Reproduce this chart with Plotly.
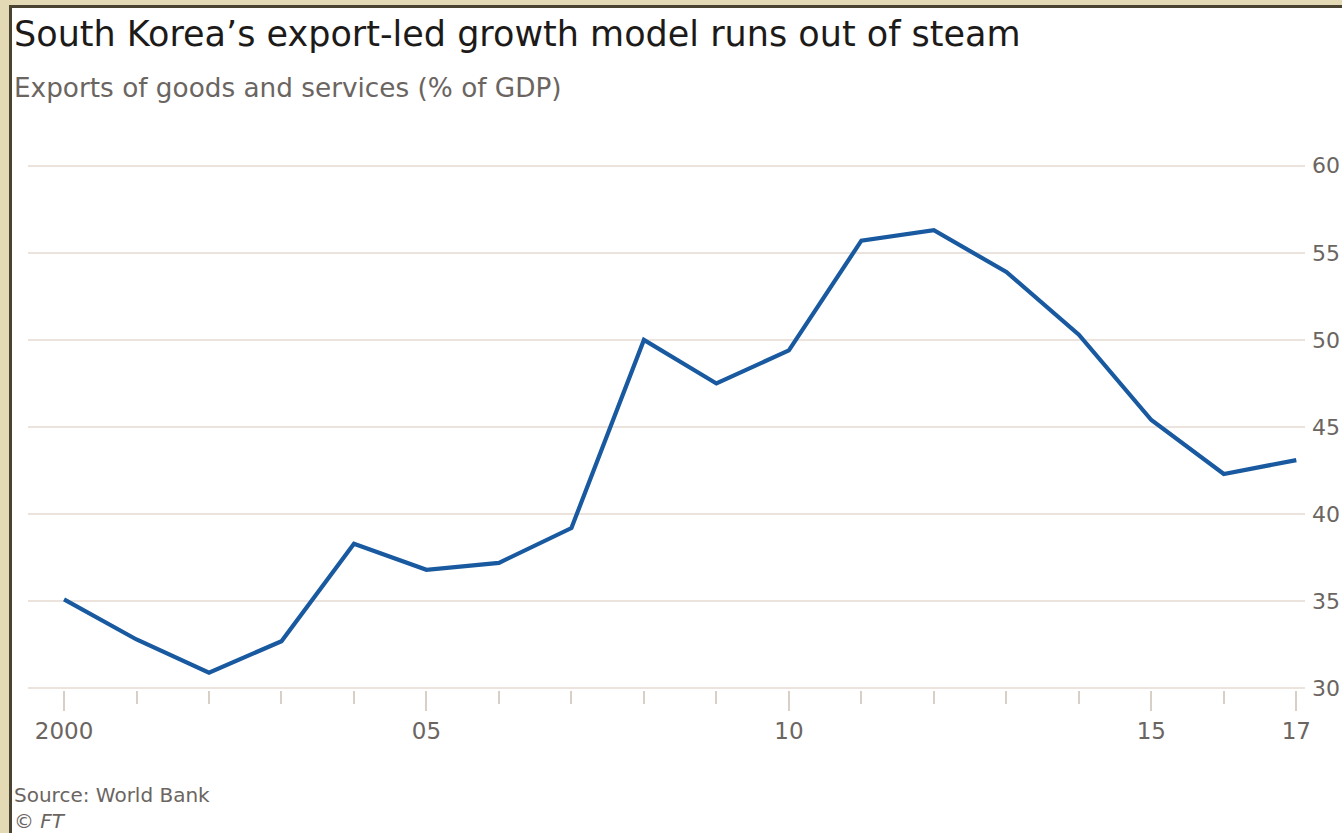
import plotly.graph_objects as go

years = list(range(2000, 2018))
exports_pct_gdp = [35.1, 32.8, 30.9, 32.7, 38.3, 36.8, 37.2, 39.2, 50.0, 47.5,
                   49.4, 55.7, 56.3, 53.9, 50.3, 45.4, 42.3, 43.1]
x_tickvals = [2000, 2005, 2010, 2015, 2017]
x_ticktext = ["2000", "05", "10", "15", "17"]
y_tickvals = [30, 35, 40, 45, 50, 55, 60]

W, H = 1342, 833
ML, MR, MT, MB = 28, 37, 164, 143
PW = W - ML - MR
PH = H - MT - MB

def px(x):
    return (x - ML) / PW

def py(y):
    return (H - MB - y) / PH

FONT = "DejaVu Sans"

fig = go.Figure()
fig.add_trace(go.Scatter(
    x=years, y=exports_pct_gdp, mode="lines",
    line=dict(color="#18599f", width=4.2),
    hoverinfo="x+y", showlegend=False,
))

shapes = [
    dict(type="rect", xref="paper", yref="paper", layer="below",
         x0=px(9), x1=px(W + 20), y0=py(H + 20), y1=py(5),
         fillcolor="#4b4331", line=dict(width=0)),
    dict(type="rect", xref="paper", yref="paper", layer="below",
         x0=px(12), x1=px(W + 20), y0=py(H + 20), y1=py(8),
         fillcolor="#ffffff", line=dict(width=0)),
]

annotations = [
    dict(text="South Korea\u2019s export-led growth model runs out of steam",
         x=px(12), y=py(34), xref="paper", yref="paper", xanchor="left", yanchor="middle",
         showarrow=False, font=dict(family=FONT, size=35, color="#1d1b19")),
    dict(text="Exports of goods and services (% of GDP)",
         x=px(12), y=py(88), xref="paper", yref="paper", xanchor="left", yanchor="middle",
         showarrow=False, font=dict(family=FONT, size=26.3, color="#6b6561")),
    dict(text="Source: World Bank",
         x=px(12), y=py(795), xref="paper", yref="paper", xanchor="left", yanchor="middle",
         showarrow=False, font=dict(family=FONT, size=20, color="#6b6561")),
    dict(text="<i>\u00a9 FT</i>",
         x=px(12), y=py(821), xref="paper", yref="paper", xanchor="left", yanchor="middle",
         showarrow=False, font=dict(family=FONT, size=20, color="#6b6561")),
]

fig.update_layout(
    width=W, height=H,
    margin=dict(l=ML, r=MR, t=MT, b=MB, pad=0),
    paper_bgcolor="#e3d9b4",
    plot_bgcolor="rgba(0,0,0,0)",
    shapes=shapes,
    annotations=annotations,
    font=dict(family=FONT, color="#6b6561"),
    xaxis=dict(
        range=[1999.503, 2017.12],
        tickmode="array", tickvals=x_tickvals, ticktext=x_ticktext,
        ticks="outside", ticklen=20, tickwidth=2, tickcolor="#d8cfc6",
        showgrid=False, zeroline=False,
        showline=False,
        tickfont=dict(family=FONT, size=23, color="#6b6561"),
        minor=dict(tickmode="linear", tick0=2000, dtick=1, ticks="outside",
                   ticklen=13, tickwidth=2, tickcolor="#d8cfc6", showgrid=False),
        automargin=False, fixedrange=True,
    ),
    yaxis=dict(
        range=[29.9, 60.1], side="right",
        tickmode="array", tickvals=y_tickvals,
        ticks="", showgrid=True, gridcolor="#ece4dc", gridwidth=2,
        zeroline=False, showline=False,
        tickfont=dict(family=FONT, size=22, color="#6b6561"),
        ticklabelstandoff=6,
        automargin=False, fixedrange=True,
    ),
)

fig.write_html("out.html")
